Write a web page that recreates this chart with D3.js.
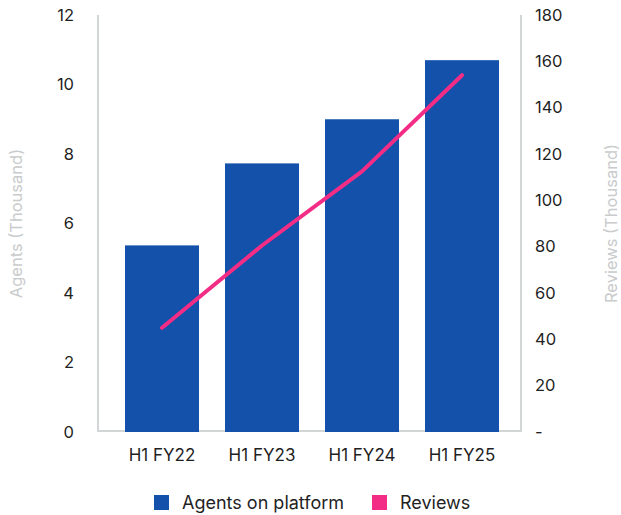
<!DOCTYPE html>
<html>
<head>
<meta charset="utf-8">
<script src="https://cdn.jsdelivr.net/npm/d3@7"></script>
<style>
  html, body { margin: 0; padding: 0; background: #fff; }
  svg { display: block; font-family: Inter, "Open Sans", sans-serif; }
</style>
</head>
<body>
<svg id="chart" width="621" height="515"></svg>
<script>
// Half-year periods
const categories = ["H1 FY22", "H1 FY23", "H1 FY24", "H1 FY25"];
// Agents on platform (thousand) – left axis
const agents = [5.37, 7.73, 9.0, 10.7];
// Reviews (thousand) – right axis
const reviews = [45, 80.5, 112.5, 154];
const leftTicks = [0, 2, 4, 6, 8, 10, 12];
const rightTicks = [0, 20, 40, 60, 80, 100, 120, 140, 160, 180];

const svg = d3.select("#chart");
const plot = { left: 98, right: 521, top: 15, bottom: 432 };
const barColor = "#1351AA";
const lineColor = "#F32D86";
const frameColor = "#D3D6D7";
const textColor = "#1f1f24";
const titleColor = "#C9CBCC";

const x = d3.scaleBand().domain(categories).range([112, 512]).paddingInner(0.26).paddingOuter(0.13);
const yL = d3.scaleLinear().domain([0, 12]).range([plot.bottom, plot.top]);
const yR = d3.scaleLinear().domain([0, 180]).range([plot.bottom, plot.top]);

// Frame: left, bottom and right rules
svg.append("path")
  .attr("d", `M${plot.left},${plot.top}V${plot.bottom - 1}H${plot.right}V${plot.top}`)
  .attr("fill", "none").attr("stroke", frameColor).attr("stroke-width", 2);

// Left axis
const leftAxis = svg.append("g").attr("transform", `translate(74,0)`)
  .call(d3.axisLeft(yL).tickValues(leftTicks).tickSize(0).tickPadding(0));
leftAxis.select(".domain").remove();
leftAxis.selectAll("text").attr("font-size", 16.5).attr("fill", textColor).attr("font-family", "Inter, sans-serif");

// Right axis
const rightAxis = svg.append("g").attr("transform", `translate(535,0)`)
  .call(d3.axisRight(yR).tickValues(rightTicks).tickSize(0).tickPadding(0)
    .tickFormat(d => d === 0 ? "-" : d));
rightAxis.select(".domain").remove();
rightAxis.selectAll("text").attr("font-size", 16.5).attr("fill", textColor).attr("font-family", "Inter, sans-serif");

// Bottom axis
const bottomAxis = svg.append("g").attr("transform", `translate(0,${plot.bottom})`)
  .call(d3.axisBottom(x).tickSize(0).tickPadding(17));
bottomAxis.select(".domain").remove();
bottomAxis.selectAll("text").attr("font-size", 17).attr("fill", textColor).attr("font-family", "Inter, sans-serif");

// Axis titles
const mid = (plot.top + plot.bottom) / 2;
svg.append("text").attr("transform", `translate(22,${mid}) rotate(-90)`)
  .attr("text-anchor", "middle").attr("font-size", 16.5).attr("fill", titleColor)
  .text("Agents (Thousand)");
svg.append("text").attr("transform", `translate(617,${mid}) rotate(-90)`)
  .attr("text-anchor", "middle").attr("font-size", 16.5).attr("fill", titleColor)
  .text("Reviews (Thousand)");

// Bars
svg.append("g").selectAll("rect").data(categories).join("rect")
  .attr("x", d => x(d))
  .attr("width", x.bandwidth())
  .attr("y", (d, i) => yL(agents[i]))
  .attr("height", (d, i) => yL(0) - yL(agents[i]))
  .attr("fill", barColor);

// Reviews line
const line = d3.line()
  .x((d, i) => x(categories[i]) + x.bandwidth() / 2)
  .y(d => yR(d));
svg.append("path").datum(reviews)
  .attr("d", line)
  .attr("fill", "none").attr("stroke", lineColor)
  .attr("stroke-width", 4).attr("stroke-linecap", "round").attr("stroke-linejoin", "round");

// Legend
const legendItems = [
  { label: "Agents on platform", color: barColor, x: 154 },
  { label: "Reviews", color: lineColor, x: 372 }
];
const legend = svg.append("g").selectAll("g").data(legendItems).join("g")
  .attr("transform", d => `translate(${d.x},495)`);
legend.append("rect").attr("width", 15).attr("height", 15).attr("fill", d => d.color);
legend.append("text").attr("x", 28).attr("y", 14).attr("font-size", 18)
  .attr("fill", textColor).text(d => d.label);
</script>
</body>
</html>
